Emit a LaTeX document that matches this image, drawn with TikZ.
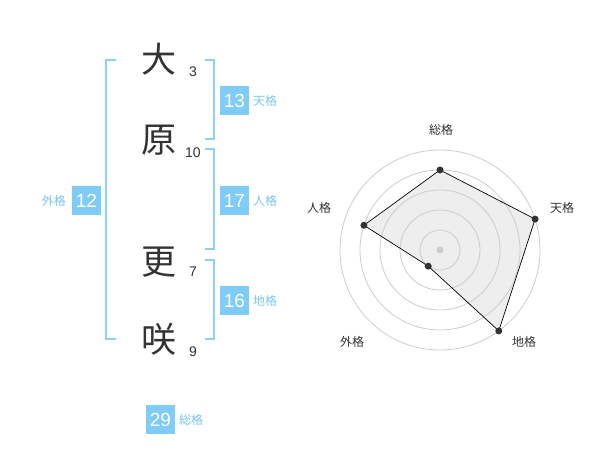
\documentclass[tikz,border=0pt]{standalone}
\usepackage{fontspec}
\setmainfont{Liberation Sans}
\newfontfamily\jp{Noto Sans CJK JP}
\definecolor{kblue}{RGB}{128,204,248}
\definecolor{kbrk}{RGB}{140,208,248}
\definecolor{klab}{RGB}{120,196,240}
\definecolor{kdark}{RGB}{51,51,51}
\definecolor{kgrid}{RGB}{204,204,204}
\definecolor{kfill}{RGB}{238,238,238}
\begin{document}
\begin{tikzpicture}[x=1pt,y=-1pt,
  kanji/.style={inner sep=0pt,text=kdark,font=\jp\fontsize{35}{35}\selectfont},
  strokes/.style={inner sep=0pt,text=kdark,font=\fontsize{14}{14}\selectfont},
  valbox/.style={fill=kblue,text=white,minimum width=29pt,minimum height=29pt,inner sep=0pt,font=\fontsize{19}{19}\selectfont},
  vlabel/.style={text=klab,inner sep=0pt,font=\jp\fontsize{12}{12}\selectfont},
  brk/.style={draw=kbrk,line width=2pt},
  ring/.style={draw=kgrid,line width=0.8pt},
  rlabel/.style={text=kdark,inner sep=0pt,font=\jp\fontsize{12}{12}\selectfont},
  dot/.style={circle,fill=kdark,inner sep=0pt,minimum size=7pt}]
\useasboundingbox (0,0) rectangle (600,470);
% kanji
\node[kanji] (k1) at (159,59) {大};
\node[kanji] (k2) at (159,140) {原};
\node[kanji] (k3) at (159,262) {更};
\node[kanji] (k4) at (159,339) {咲};
\node[strokes] (s1) at (193,72) {3};
\node[strokes] (s2) at (193,153) {10};
\node[strokes] (s3) at (193,272) {7};
\node[strokes] (s4) at (193,352) {9};
% brackets
\draw[brk] (116,60) -- (106,60) -- (106,339) -- (116,339);
\draw[brk] (205,60) -- (214,60) -- (214,139) -- (205,139);
\draw[brk] (205,149) -- (214,149) -- (214,249) -- (205,249);
\draw[brk] (205,260) -- (214,260) -- (214,339) -- (205,339);
% value boxes
\node[valbox] (b1) at (234.5,100.5) {13};
\node[vlabel,anchor=west] (l1) at (253,101) {天格};
\node[valbox] (b2) at (234.5,200.5) {17};
\node[vlabel,anchor=west] (l2) at (253,201) {人格};
\node[valbox] (b3) at (234.5,300.5) {16};
\node[vlabel,anchor=west] (l3) at (253,301) {地格};
\node[valbox] (b4) at (86.5,200.5) {12};
\node[vlabel,anchor=east] (l4) at (66,201) {外格};
\node[valbox] (b5) at (160.5,419.5) {29};
\node[vlabel,anchor=west] (l5) at (179,420) {総格};
% radar
\begin{scope}[shift={(440,250)}]
  \coordinate (pS) at (-90:80);
  \coordinate (pT) at (-18:100);
  \coordinate (pC) at (54:100);
  \coordinate (pG) at (126:20);
  \coordinate (pJ) at (-162:80);
  \fill[kfill] (pS) -- (pT) -- (pC) -- (pG) -- (pJ) -- cycle;
  \foreach \r in {20,40,60,80,100} \draw[ring] (0,0) circle[radius=\r];
  \fill[kgrid] (0,0) circle[radius=3.5];
  \draw[draw=black,line width=0.7pt] (pS) -- (pT) -- (pC) -- (pG) -- (pJ) -- cycle;
  \foreach \p in {pS,pT,pC,pG,pJ} \node[dot] at (\p) {};
\end{scope}
\node[rlabel] (rS) at (441,130) {総格};
\node[rlabel] (rT) at (562,208) {天格};
\node[rlabel] (rC) at (524,342) {地格};
\node[rlabel] (rG) at (352,342) {外格};
\node[rlabel] (rJ) at (319,208) {人格};
\end{tikzpicture}
\end{document}
